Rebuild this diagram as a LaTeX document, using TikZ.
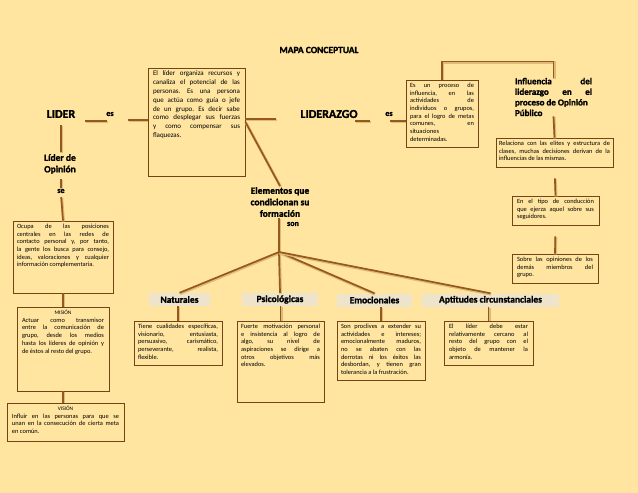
\documentclass[tikz,border=0pt]{standalone}
\usepackage{fontspec}
\setmainfont{Carlito}
\newfontfamily\hvy{Carlito}[BoldFeatures={FakeBold=1.6}]
\usetikzlibrary{calc}
\definecolor{bg}{RGB}{255,229,160}
\definecolor{conn}{RGB}{150,88,28}
\definecolor{bord}{RGB}{115,68,20}
\definecolor{chk}{RGB}{238,228,204}
\newcommand\bt{\fontsize{6.4}{7.7}\selectfont\frenchspacing}
\newcommand\btl{\fontsize{7.0}{8.8}\selectfont\frenchspacing}
\newcommand\boxtxt[3]{\parbox[c][#2][t]{#1}{#3}}
\begin{document}
\begin{tikzpicture}[x=1pt,y=-1pt,
  box/.style={draw=bord, line width=0.9pt, inner sep=0pt},
  conn/.style={draw=conn, line width=1.7pt, line cap=butt,
    preaction={draw=conn!30!bg, line width=2.8pt, transform canvas={shift={(0.6pt,-0.9pt)}}}},
  head/.style={font=\fontsize{12}{14}\selectfont\hvy\bfseries, inner sep=1pt},
  word/.style={font=\fontsize{8}{9}\selectfont\hvy\bfseries, inner sep=1pt},
  sub/.style={font=\fontsize{9.5}{11.5}\selectfont\hvy\bfseries, inner sep=1pt, align=center},
  cat/.style={fill=chk, inner sep=0pt, minimum height=13pt,
    font=\fontsize{9.5}{10}\selectfont\hvy\bfseries}
]
\fill[bg] (0,0) rectangle (638,493);
\useasboundingbox (0,0) rectangle (638,493);

% title
\node[font=\fontsize{9.5}{11}\selectfont\hvy\bfseries] (title) at (319,50) {MAPA CONCEPTUAL};

% top row
\node[head] (lider) at (61,114) {LIDER};
\node[word] (es1) at (110,114) {es};
\node[box, minimum width=97pt, minimum height=108pt] (box1) at (196.5,122)
  {\boxtxt{87pt}{102pt}{\btl El líder organiza recursos y\linebreak canaliza el potencial de las\linebreak personas. Es una persona\linebreak que actúa como guía o jefe\linebreak de un grupo. Es decir sabe\linebreak como desplegar sus fuerzas\linebreak y como compensar sus\linebreak flaquezas.}};
\node[head] (lz) at (329,114) {LIDERAZGO};
\node[word] (es2) at (389,114) {es};
\node[box, minimum width=72pt, minimum height=67pt] (box2) at (442,113.5)
  {\boxtxt{64pt}{61pt}{\bt Es un proceso de\linebreak influencia, en las\linebreak actividades de\linebreak individuos o grupos,\linebreak para el logro de metas\linebreak comunes, en\linebreak situaciones\newline determinadas.}};
\node[inner sep=0pt] (infl) at (553.5,97)
  {\parbox{77pt}{\fontsize{9}{10.6}\selectfont\hvy\bfseries Influencia del\linebreak liderazgo en el\linebreak proceso de Opinión\newline Público}};
\node[box, minimum width=117pt, minimum height=29pt] (box3) at (554.5,152.5)
  {\boxtxt{111pt}{23pt}{\bt Relaciona con las elites y estructura de\linebreak clases, muchas decisiones derivan de la\linebreak influencias de las mismas.}};
\node[box, minimum width=87pt, minimum height=29pt] (box4) at (555.5,210.5)
  {\boxtxt{77pt}{23pt}{\bt En el tipo de conducción\linebreak que ejerza aquel sobre sus\linebreak seguidores.}};
\node[box, minimum width=86pt, minimum height=29pt] (box5) at (555,268.5)
  {\boxtxt{76pt}{23pt}{\bt Sobre las opiniones de los\linebreak demás miembros del\linebreak grupo.}};

% left column
\node[sub] (lop) at (60,164) {Líder de\\Opinión};
\node[word] (se) at (61,191) {se};
\node[box, minimum width=100pt, minimum height=72pt] (box6) at (63,257)
  {\boxtxt{92pt}{66pt}{\bt Ocupa de las posiciones\linebreak centrales en las redes de\linebreak contacto personal y, por tanto,\linebreak la gente los busca para consejo,\linebreak ideas, valoraciones y cualquier\linebreak información complementaria.}};
\node[box, minimum width=92pt, minimum height=84pt] (box7) at (63,349)
  {\boxtxt{82pt}{78pt}{\bt {\centering\fontsize{5.4}{7.7}\selectfont MISIÓN\par}Actuar como transmisor\linebreak entre la comunicación de\linebreak grupo, desde los medios\linebreak hasta los líderes de opinión y\linebreak de éstos al resto del grupo.}};
\node[box, minimum width=117pt, minimum height=38pt] (box8) at (65.5,422)
  {\boxtxt{107pt}{32pt}{\bt {\centering\fontsize{5.4}{7.7}\selectfont VISIÓN\par}Influir en las personas para que se\linebreak unan en la consecución de cierta meta\linebreak en común.}};

% center
\node[sub] (elem) at (280,202) {Elementos que\\condicionan su\\formación};
\node[word] (son) at (293,224) {son};
\coordinate (hub) at (279,252);
\node[cat, minimum width=61pt] (nat) at (179.5,299.5) {Naturales};
\node[cat, minimum width=76pt] (psi) at (280,299.5) {Psicológicas};
\node[cat, minimum width=75pt] (emo) at (374.5,300) {Emocionales};
\node[cat, minimum width=137pt] (apt) at (490.5,300) {Aptitudes circunstanciales};

\node[box, minimum width=88pt, minimum height=44pt] (bnat) at (178,343)
  {\boxtxt{80pt}{38pt}{\bt Tiene cualidades específicas,\linebreak visionario, entusiasta,\linebreak persuasivo, carismático,\linebreak perseverante, realista,\linebreak flexible.}};
\node[box, minimum width=87pt, minimum height=81pt] (bpsi) at (280.5,361.5)
  {\boxtxt{79pt}{75pt}{\bt Fuerte motivación personal\linebreak e insistencia al logro de\linebreak algo, su nivel de\linebreak aspiraciones se dirige a\linebreak otros objetivos más\linebreak elevados.}};
\node[box, minimum width=88pt, minimum height=59pt] (bemo) at (381,350.5)
  {\boxtxt{80pt}{53pt}{\bt Son proclives a extender su\linebreak actividades e intereses;\linebreak emocionalmente maduros,\linebreak no se abaten con las\linebreak derrotas ni los éxitos las\linebreak desbordan, y tienen gran\linebreak tolerancia a la frustración.}};
\node[box, minimum width=89pt, minimum height=44pt] (bapt) at (488.5,343)
  {\boxtxt{79pt}{38pt}{\bt El líder debe estar\linebreak relativamente cercano al\linebreak resto del grupo con el\linebreak objeto de mantener la\linebreak armonía.}};

% connectors
\coordinate (c1) at (85,121);
\coordinate (c2) at (128,120);
\coordinate (c3) at (276,119);
\coordinate (c4) at (355,121);
\coordinate (c5) at (390,121);
\coordinate (c6) at (370,121);
\coordinate (c7) at (107,121);
\draw[conn] (c1) -- (c7);
\draw[conn] (c2) -- (c2 -| box1.west);
\draw[conn] (c3 -| box1.east) -- (c3);
\draw[conn] (box1.east) -- (elem.north);
\draw[conn] (c4) -- (c6);
\draw[conn] (c5) -- (c5 -| box2.west);
\draw[conn] (box2.north) -- ++(0,-18) -| (infl.north);
\draw[conn] (infl.south) -- (box3.north);
\draw[conn, shorten <=11pt] (box3.south) -- (box4.north);
\draw[conn, shorten <=11pt] (box4.south) -- (box5.north);

\draw[conn, shorten <=6pt, shorten >=1pt] (lider.south) -- (lop.north -| lider.south);
\draw[conn, shorten <=4pt] (lop.south -| se.north) -- (se.north);
\draw[conn, shorten <=3pt] (se.south) -- (box6.north);
\draw[conn] (box6.south) -- (box7.north);
\draw[conn] (box7.south) -- (box8.north -| box7.south);

\draw[conn] (elem.south -| hub) -- (hub);
\draw[conn] (hub) -- (nat.north);
\draw[conn] (hub) -- (psi.north);
\draw[conn] (hub) -- (emo.north);
\draw[conn] (hub) -- (apt.north);
\draw[conn] (bnat.north |- nat.south) -- (bnat.north);
\draw[conn] (bpsi.north |- psi.south) -- (bpsi.north);
\draw[conn] (bemo.north |- emo.south) -- (bemo.north);
\draw[conn] (bapt.north |- apt.south) -- (bapt.north);
\end{tikzpicture}
\end{document}
